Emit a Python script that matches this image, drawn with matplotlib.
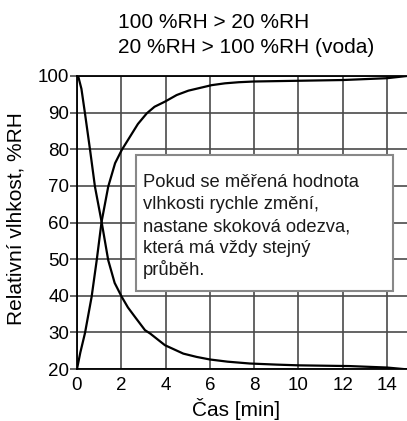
import numpy as np
import matplotlib.pyplot as plt
from matplotlib.patches import Rectangle

plt.rcParams['font.family'] = ['Liberation Sans', 'DejaVu Sans']

# sestupna krivka 100 %RH > 20 %RH
t_down = [0, 0.06, 0.2, 0.36, 0.59, 0.81, 1.11, 1.41, 1.7, 2.02, 2.3, 2.62, 3.07, 3.3,
          3.97, 4.8, 5.4, 6.0, 6.8, 7.8, 9.0, 10.0, 12.3, 14.0, 14.9]
rh_down = [100, 99.8, 96.5, 89.8, 79.8, 69.8, 60.2, 49.7, 43.5, 39.7, 36.8, 34.2, 30.6,
           29.7, 26.5, 24.2, 23.3, 22.6, 22.0, 21.5, 21.2, 21.0, 20.8, 20.4, 19.9]

# vzestupna krivka 20 %RH > 100 %RH (voda)
t_up = [0, 0.15, 0.36, 0.66, 0.89, 1.11, 1.41, 1.72, 2.02, 2.39, 2.75, 3.15, 3.5, 3.97,
        4.5, 5.03, 6.08, 6.68, 7.3, 8.0, 10.0, 12.0, 14.0, 14.9]
rh_up = [20, 24.5, 29.8, 39.7, 49.7, 60.2, 69.8, 76.2, 79.8, 83.4, 86.9, 89.8, 91.6,
         93.0, 94.8, 96.0, 97.5, 98.0, 98.3, 98.5, 98.7, 98.9, 99.4, 100]

x_ticks = [0, 2, 4, 6, 8, 10, 12, 14]
y_ticks = [20, 30, 40, 50, 60, 70, 80, 90, 100]

title_lines = ['100 %RH > 20 %RH', '20 %RH > 100 %RH (voda)']
note_lines = ['Pokud se měřená hodnota', 'vlhkosti rychle změní,',
              'nastane skoková odezva,', 'která má vždy stejný', 'průběh.']

W, H = 407, 421
fig = plt.figure(figsize=(W / 100, H / 100), dpi=100)
ax = fig.add_axes([77 / W, 1 - 369 / H, (W - 77) / W, (369 - 76) / H])

ax.plot(t_down, rh_down, color='black', lw=1.6, zorder=2)
ax.plot(t_up, rh_up, color='black', lw=1.6, zorder=2)

ax.set_xlim(0, 14.9)
ax.set_ylim(20, 100)
ax.set_xticks(x_ticks)
ax.set_yticks(y_ticks)
ax.grid(True, color='#4a4a4a', lw=1.2)
ax.set_axisbelow(True)
ax.tick_params(axis='x', length=0, pad=5.5, labelsize=13.5)
ax.tick_params(axis='y', length=5, width=1.2, color='#4a4a4a', pad=0.5, labelsize=13.5)
for s in ['left', 'top', 'bottom']:
    ax.spines[s].set_linewidth(1.3)
ax.spines['right'].set_visible(False)

# titulek
fig.text(118 / W, 1 - 28 / H, title_lines[0], fontsize=15, va='baseline')
fig.text(118 / W, 1 - 53 / H, title_lines[1], fontsize=15, va='baseline')

fig.text(236 / W, 1 - 416 / H, 'Čas [min]', fontsize=15, ha='center', va='baseline')
fig.text(16.0 / W, 1 - 325 / H, 'Relativní vlhkost, %RH', fontsize=15,
         rotation=90, ha='center', va='bottom')

# poznamka v ramecku
box = Rectangle((136 / W, 1 - 291 / H), (393 - 136) / W, (291 - 155) / H,
                transform=fig.transFigure, facecolor='white', edgecolor='#888888',
                lw=1.5, zorder=3)
ax.add_patch(box)
for i, line in enumerate(note_lines):
    fig.text(143 / W, 1 - (187.3 + i * 21.9) / H, line, fontsize=13.2,
             color='#1a1a1a', va='baseline', zorder=4)

fig.savefig('out.png', dpi=100)
